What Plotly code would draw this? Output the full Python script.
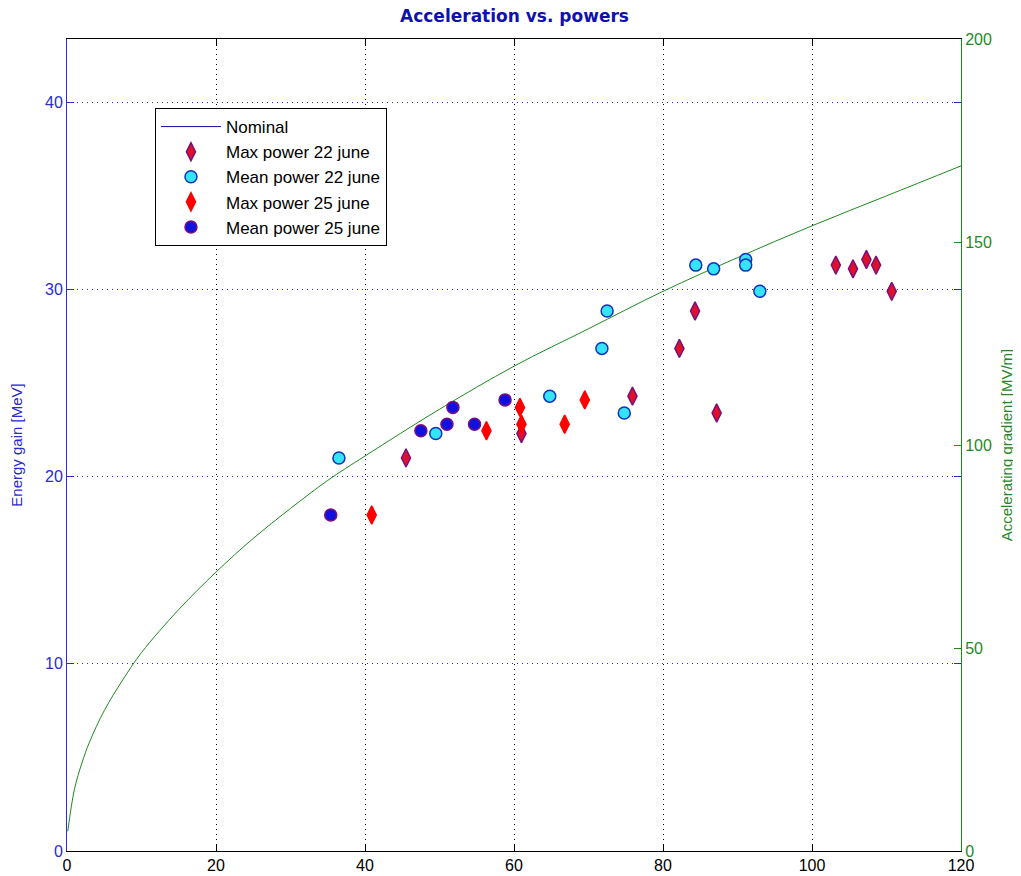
import plotly.graph_objects as go

# Nominal curve samples (power, energy gain MeV)
nom_power = [0.1, 1, 2, 3, 5, 7.5, 10, 15, 20, 25, 30, 35, 40, 50, 60, 70, 80, 90, 100, 110, 120]
nom_energy = [1.05, 3.3, 4.7, 5.8, 7.5, 9.15, 10.6, 12.9, 14.9, 16.7, 18.3, 19.8, 21.1, 23.6, 25.9, 27.9, 29.9, 31.7, 33.4, 35.0, 36.6]

max22_power = [45.5, 61.0, 75.9, 82.2, 84.3, 87.2, 103.2, 105.5, 107.3, 108.6, 110.7]
max22_energy = [21.0, 22.3, 24.3, 26.85, 28.85, 23.4, 31.3, 31.1, 31.6, 31.3, 29.9]

mean22_power = [36.5, 49.5, 64.8, 71.8, 72.5, 74.8, 84.4, 86.8, 91.1, 91.1, 93.0]
mean22_energy = [21.0, 22.3, 24.3, 26.85, 28.85, 23.4, 31.3, 31.1, 31.6, 31.3, 29.9]

max25_power = [40.9, 56.3, 60.8, 61.0, 66.8, 69.5]
max25_energy = [17.95, 22.45, 23.7, 22.8, 22.8, 24.1]

mean25_power = [35.4, 47.5, 51.8, 51.0, 54.7, 58.8]
mean25_energy = [17.95, 22.45, 23.7, 22.8, 22.8, 24.1]

x_ticks = [0, 20, 40, 60, 80, 100, 120]
left_ticks = [0, 10, 20, 30, 40]
right_ticks = [0, 50, 100, 150, 200]

BLUE = "#2b2bd0"
GREEN = "#1f8a1f"
PURPLE = "#7a0f7a"
FONT = "Liberation Sans, Arial, sans-serif"

fig = go.Figure()

# legend entry for nominal (blue line in legend)
fig.add_trace(go.Scatter(x=[None], y=[None], mode="lines", name="Nominal", legendgroup="g0",
                         line=dict(color="#1010a0", width=1)))
# actual nominal curve (green)
fig.add_trace(go.Scatter(x=nom_power, y=nom_energy, mode="lines", showlegend=False,
                         line=dict(color=GREEN, width=1), line_shape="spline"))

fig.add_trace(go.Scatter(x=max22_power, y=max22_energy, mode="markers", name="Max power 22 june",
                         legendgroup="g1",
                         marker=dict(symbol="diamond-tall", size=13, color="#e0102a",
                                     line=dict(color=PURPLE, width=1.5))))
fig.add_trace(go.Scatter(x=mean22_power, y=mean22_energy, mode="markers", name="Mean power 22 june",
                         legendgroup="g2",
                         marker=dict(symbol="circle", size=12, color="#33e5f5",
                                     line=dict(color="#1530c0", width=1.5))))
fig.add_trace(go.Scatter(x=max25_power, y=max25_energy, mode="markers", name="Max power 25 june",
                         legendgroup="g3",
                         marker=dict(symbol="diamond-tall", size=13, color="#ff0000",
                                     line=dict(color="#ff0000", width=1.5))))
fig.add_trace(go.Scatter(x=mean25_power, y=mean25_energy, mode="markers", name="Mean power 25 june",
                         legendgroup="g4",
                         marker=dict(symbol="circle", size=12, color="#1010e0",
                                     line=dict(color=PURPLE, width=1.5))))

# dummy trace for right axis
fig.add_trace(go.Scatter(x=[None], y=[None], yaxis="y2", showlegend=False))

fig.update_layout(
    width=1013, height=868,
    margin=dict(l=59, r=60, t=31, b=25, autoexpand=False),
    paper_bgcolor="white", plot_bgcolor="white",
    font=dict(family=FONT, size=14, color="black"),
    title=dict(text="<b>Acceleration vs. powers</b>", x=0.5, xanchor="center",
               y=1.0, yanchor="top", pad=dict(t=2),
               font=dict(family="DejaVu Sans, Verdana, sans-serif", size=17, color="#1010b0")),
    xaxis=dict(range=[0, 120], tickvals=x_ticks, ticks="inside", ticklen=7,
               tickcolor="black", showline=True, linecolor="black", mirror="ticks",
               showgrid=True, gridcolor="black", griddash="1px,4px", gridwidth=1,
               zeroline=False, tickfont=dict(size=16, color="black"), automargin=False),
    yaxis=dict(range=[0, 43.38], tickvals=left_ticks, ticks="inside", ticklen=7,
               tickcolor=BLUE, showline=True, linecolor=BLUE, mirror="ticks",
               showgrid=True, gridcolor=BLUE, griddash="1px,4px", gridwidth=1,
               zeroline=False, tickfont=dict(size=16, color=BLUE), automargin=False,
               title=dict(text="Energy gain [MeV]", font=dict(size=15, color=BLUE), standoff=18)),
    yaxis2=dict(range=[0, 200], tickvals=right_ticks, overlaying="y", side="right",
                ticks="inside", ticklen=7, tickcolor=GREEN, showline=True, linecolor=GREEN,
                showgrid=False, zeroline=False, tickfont=dict(size=16, color=GREEN), automargin=False,
                title=dict(text="Accelerating gradient [MV/m]", font=dict(size=15, color=GREEN), standoff=10)),
    legend=dict(x=0.0984, y=0.915, xanchor="left", yanchor="top",
                bgcolor="white", bordercolor="black", borderwidth=1,
                font=dict(size=17, color="black"), tracegroupgap=0, itemwidth=60),
    showlegend=True,
)

fig.write_html("out.html")
